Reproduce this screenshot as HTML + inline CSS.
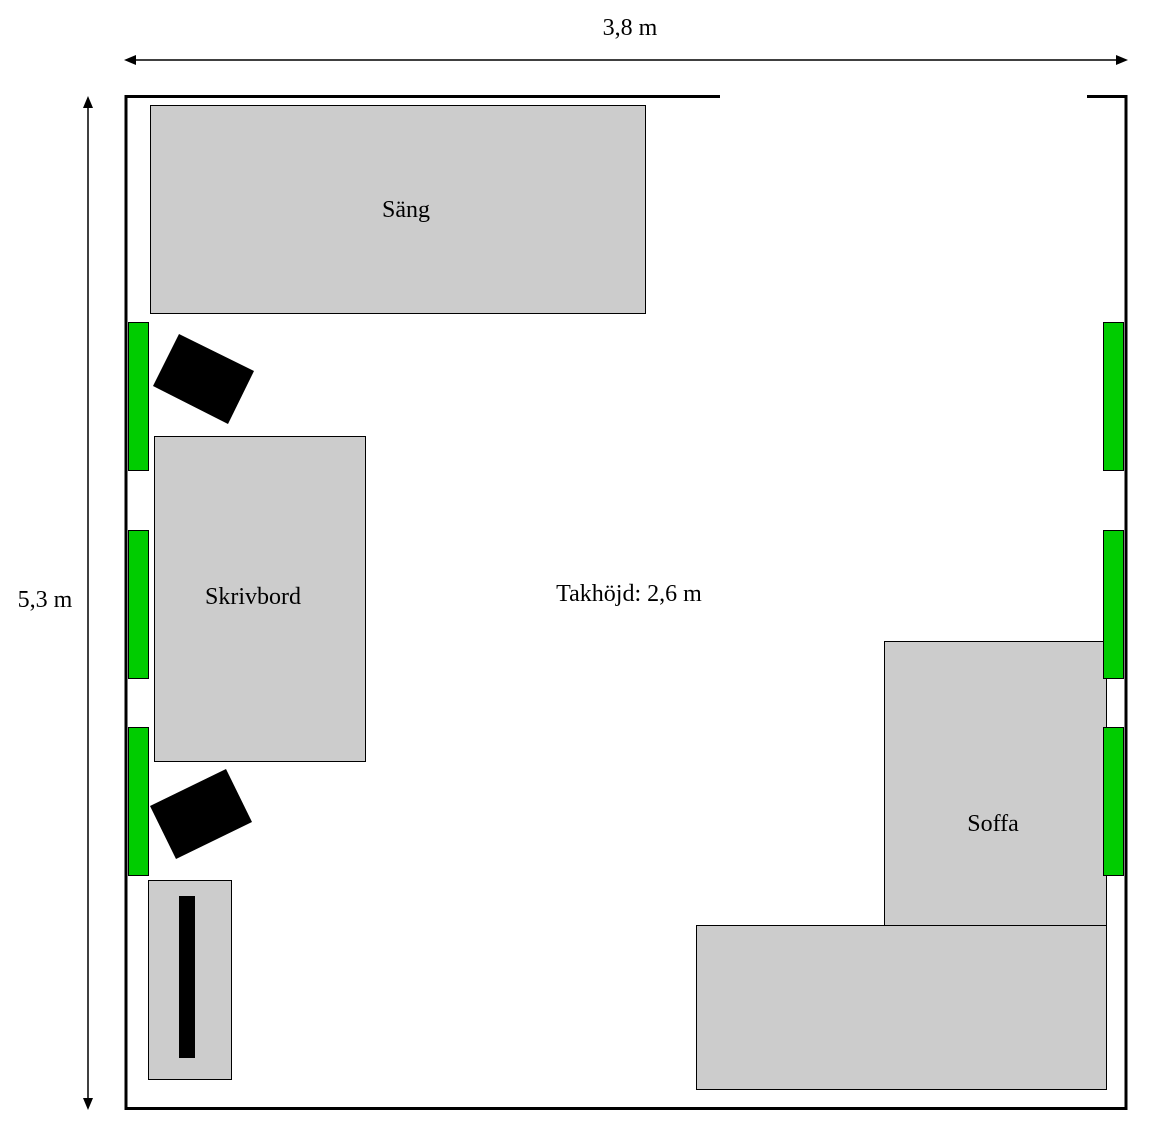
<!DOCTYPE html>
<html><head><meta charset="utf-8"><style>
html,body{margin:0;padding:0;background:#fff;}
svg{display:block;}
text{font-family:"Liberation Serif",serif;font-size:24px;fill:#000;}
</style></head><body>
<svg width="1175" height="1146" viewBox="0 0 1175 1146" xmlns="http://www.w3.org/2000/svg">
<line x1="134" y1="60" x2="1118" y2="60" stroke="#000" stroke-width="1.5"/>
<polygon points="124,60 136,55 136,65" fill="#000"/>
<polygon points="1128,60 1116,55 1116,65" fill="#000"/>
<text x="630" y="35" text-anchor="middle">3,8 m</text>
<line x1="88" y1="106" x2="88" y2="1100" stroke="#000" stroke-width="1.5"/>
<polygon points="88,96 83,108 93,108" fill="#000"/>
<polygon points="88,1110 83,1098 93,1098" fill="#000"/>
<text x="45" y="607" text-anchor="middle">5,3 m</text>
<polyline points="720,96.5 126,96.5 126,1108.5 1126,1108.5 1126,96.5 1087,96.5" fill="none" stroke="#000" stroke-width="3"/>
<rect x="150.5" y="105.5" width="495" height="208" fill="#ccc" stroke="#000" stroke-width="1"/>
<text x="406" y="217" text-anchor="middle">Säng</text>
<rect x="154.5" y="436.5" width="211" height="325" fill="#ccc" stroke="#000" stroke-width="1"/>
<text x="253" y="604" text-anchor="middle">Skrivbord</text>
<polygon points="153,386 179,334 254,371 228,424" fill="#000"/>
<polygon points="150,806 226,769 252,822 176,859" fill="#000"/>
<rect x="148.5" y="880.5" width="83" height="199" fill="#ccc" stroke="#000" stroke-width="1"/>
<rect x="179" y="896" width="16" height="162" fill="#000"/>
<rect x="884.5" y="641.5" width="222" height="284" fill="#ccc" stroke="#000" stroke-width="1"/>
<rect x="696.5" y="925.5" width="410" height="164" fill="#ccc" stroke="#000" stroke-width="1"/>
<text x="993" y="831" text-anchor="middle">Soffa</text>
<text x="629" y="601" text-anchor="middle">Takhöjd: 2,6 m</text>
<g fill="#00cc00" stroke="#000" stroke-width="1">
<rect x="128.5" y="322.5" width="20" height="148"/>
<rect x="128.5" y="530.5" width="20" height="148"/>
<rect x="128.5" y="727.5" width="20" height="148"/>
<rect x="1103.5" y="322.5" width="20" height="148"/>
<rect x="1103.5" y="530.5" width="20" height="148"/>
<rect x="1103.5" y="727.5" width="20" height="148"/>
</g>
</svg>
</body></html>
